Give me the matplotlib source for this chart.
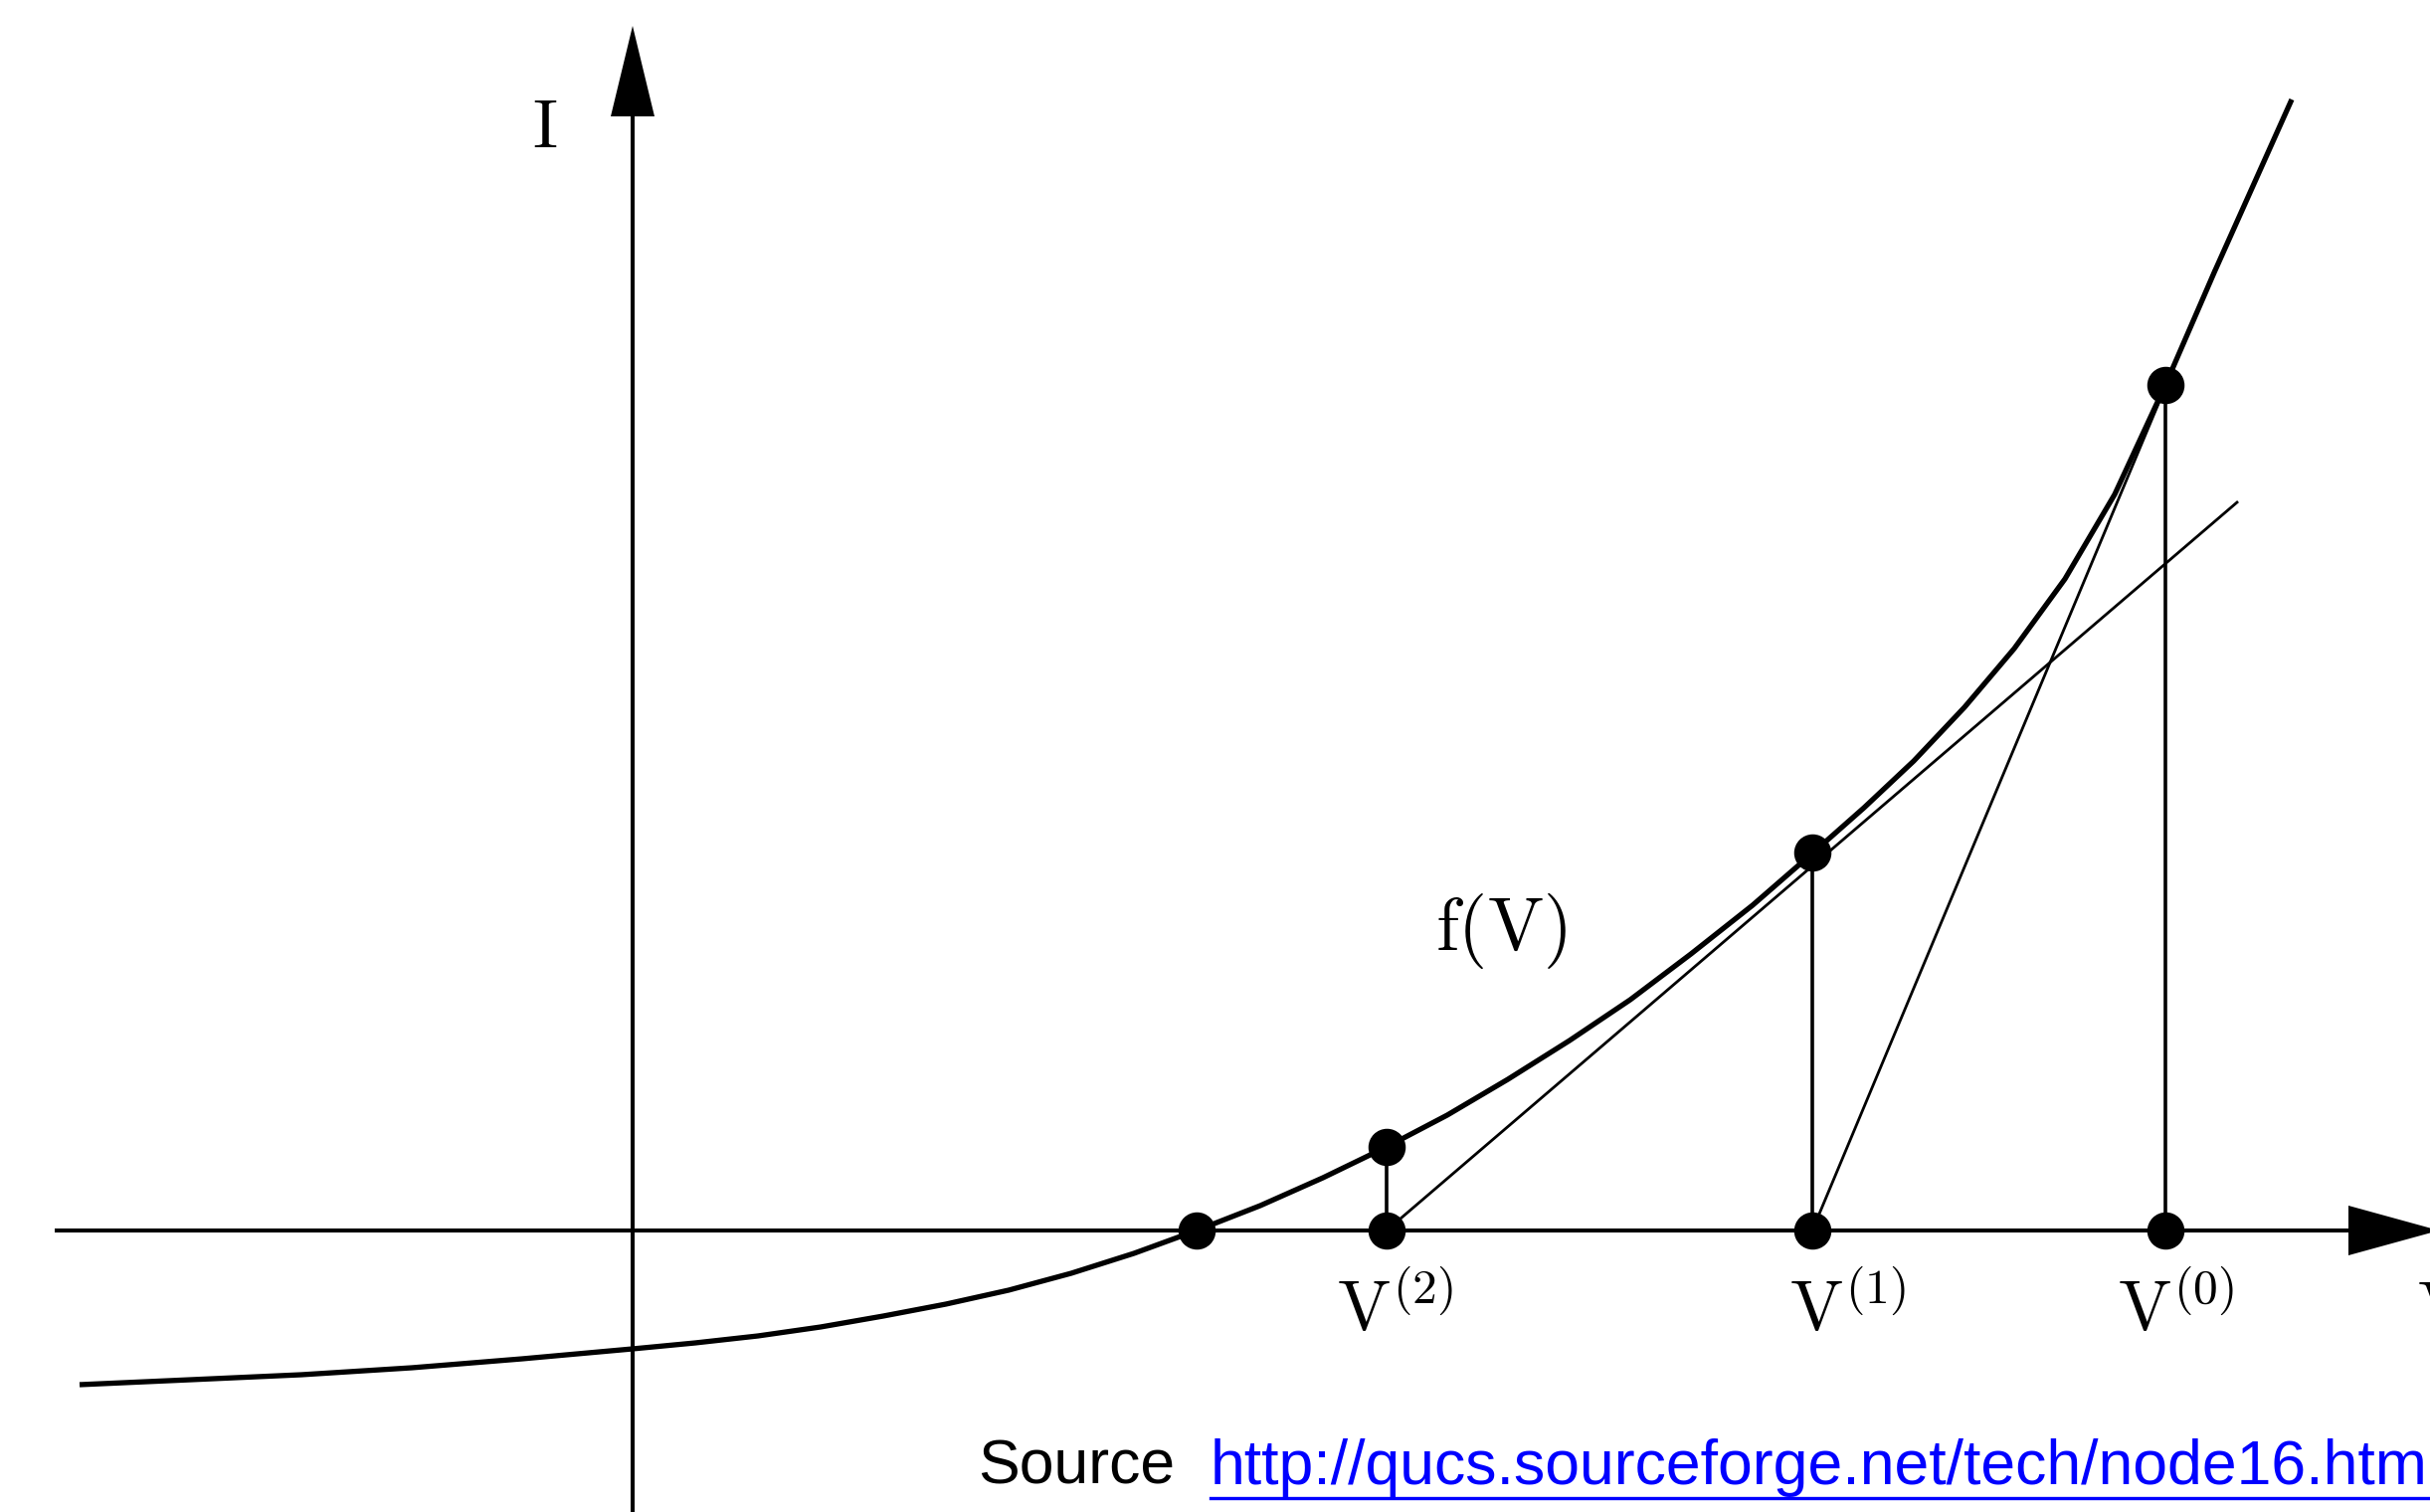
import matplotlib.pyplot as plt

plt.rcParams['mathtext.fontset'] = 'cm'

# f(V) (drawing units, origin at the axes crossing)
curve_v = [-5.56, -4.44, -3.33, -2.22, -1.11, 0.00, 0.63, 1.26, 1.89, 2.52,
           3.15, 3.78, 4.41, 5.04, 5.67, 6.31, 6.94, 7.58, 8.19, 8.80,
           9.42, 10.03, 10.64, 11.26, 11.87, 12.38, 12.88, 13.39, 13.89, 14.40,
           14.90, 15.41, 15.90, 16.68]
curve_i = [-1.55, -1.50, -1.45, -1.38, -1.29, -1.19, -1.13, -1.06, -0.97, -0.86,
           -0.74, -0.60, -0.43, -0.23, 0.00, 0.25, 0.53, 0.84, 1.16, 1.52,
           1.91, 2.32, 2.78, 3.27, 3.80, 4.25, 4.72, 5.26, 5.85, 6.55,
           7.40, 8.50, 9.63, 11.37]

# Newton iterates V(0), V(1), V(2) and f at them
iter_v = [15.41, 11.86, 7.58]
iter_i = [8.50, 3.80, 0.84]
root_v = 5.67
iter_labels = [r'$\mathrm{V}^{(0)}$', r'$\mathrm{V}^{(1)}$', r'$\mathrm{V}^{(2)}$']
label_v = [14.93, 11.63, 7.08]

# tangents: from the next iterate on the V axis up past the curve
tan0_v = [11.86, 15.90]
tan0_i = [0.0, 9.65]
tan1_v = [7.58, 16.13]
tan1_i = [0.0, 7.32]

url = 'http://qucs.sourceforge.net/tech/node16.html'

fig = plt.figure(figsize=(24.43, 15.2), dpi=100)
ax = fig.add_axes([0, 0, 1, 1])
ax.set_xlim(-6.36, 18.07)
ax.set_ylim(-2.83, 12.37)
ax.axis('off')

# axes with arrow heads
axw = 2.9
ax.plot([-5.81, 17.3], [0, 0], color='black', lw=axw, solid_capstyle='butt')
ax.plot([0, 0], [-2.9, 11.25], color='black', lw=axw, solid_capstyle='butt')
ax.fill([17.25, 18.16, 17.25], [0.25, 0.0, -0.25], color='black', lw=0)
ax.fill([-0.22, 0.0, 0.22], [11.20, 12.11, 11.20], color='black', lw=0)

# curve and construction lines
ax.plot(curve_v, curve_i, color='black', lw=3.8, solid_joinstyle='round',
        solid_capstyle='butt')
ax.plot(tan0_v, tan0_i, color='black', lw=2.0)
ax.plot(tan1_v, tan1_i, color='black', lw=2.0)
for v, i in zip(iter_v, iter_i):
    ax.plot([v, v], [0, i], color='black', lw=2.6)

ax.plot(iter_v, iter_i, 'o', color='black', ms=26)
ax.plot(iter_v + [root_v], [0, 0, 0, 0], 'o', color='black', ms=26)

# labels
fs = 51
for lv, lab in zip(label_v, iter_labels):
    ax.text(lv, -1.01, lab, fontsize=fs, ha='left', va='baseline')
ax.text(17.94, -1.01, r'$\mathrm{V}$', fontsize=fs, ha='left', va='baseline')
ax.text(-1.01, 10.89, r'$\mathrm{I}$', fontsize=50, ha='left', va='baseline')
ax.text(8.07, 2.82, r'$\mathrm{f(V)}$', fontsize=54, ha='left', va='baseline')

# source line
ax.text(3.47, -2.55, 'Source', fontsize=45, family='Liberation Sans',
        ha='left', va='baseline')
t = ax.text(5.81, -2.55, url, fontsize=45, family='Liberation Sans',
            color='#0000ff', ha='left', va='baseline')
fig.canvas.draw()
bb = t.get_window_extent().transformed(ax.transData.inverted())
ax.plot([bb.x0, bb.x1], [-2.69, -2.69], color='#0000ff', lw=2.4)

fig.savefig('out.png', dpi=100)
